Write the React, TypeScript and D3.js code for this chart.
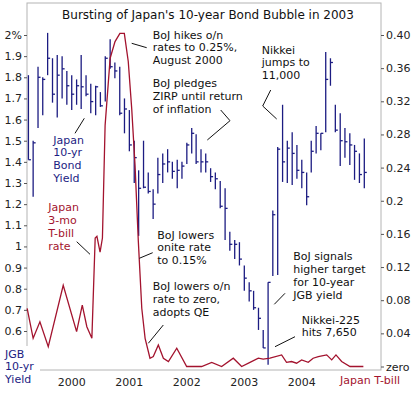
import React, { useRef, useEffect } from 'react';
import * as d3 from 'd3';

// Japan 10-yr JGB yield, monthly bars Apr 1999 .. Feb 2005 (high / low / close, %)
const yieldHigh = [
  1.81, 1.5, 1.85, 1.8, 2.01, 1.89, 1.905, 1.9, 1.83, 1.81, 1.79, 1.905,
  1.81, 1.77, 1.76, 1.73, 1.9, 1.98, 1.87, 1.85, 1.7, 1.645, 1.5, 1.36,
  1.5, 1.35, 1.27, 1.42, 1.44, 1.46, 1.4, 1.41, 1.4, 1.49, 1.56, 1.53,
  1.46, 1.44, 1.37, 1.35, 1.31, 1.275, 1.07, 1.03, 1.02, 0.91, 0.83, 0.79,
  0.71, 0.605, 0.83, 1.17, 1.47, 1.67, 1.5, 1.54, 1.48, 1.41, 1.35, 1.5,
  1.57, 1.535, 1.92, 1.89, 1.67, 1.63, 1.56, 1.535, 1.48, 1.44, 1.51,
];
const yieldLow = [
  1.41, 1.235, 1.56, 1.62, 1.81, 1.68, 1.61, 1.7, 1.67, 1.645, 1.67, 1.65,
  1.71, 1.63, 1.62, 1.66, 1.685, 1.84, 1.795, 1.62, 1.535, 1.45, 1.3, 1.05,
  1.275, 1.25, 1.13, 1.25, 1.3, 1.35, 1.32, 1.275, 1.32, 1.39, 1.44, 1.39,
  1.35, 1.35, 1.305, 1.27, 1.18, 1.03, 0.98, 0.94, 0.91, 0.79, 0.74, 0.7,
  0.605, 0.52, 0.44, 0.86, 0.865, 1.305, 1.3, 1.29, 1.32, 1.275, 1.195, 1.35,
  1.44, 1.455, 1.54, 1.76, 1.54, 1.38, 1.42, 1.385, 1.315, 1.3, 1.275,
];
const yieldClose = [
  1.41, 1.49, 1.8, 1.79, 1.89, 1.72, 1.81, 1.84, 1.76, 1.72, 1.76, 1.755,
  1.72, 1.685, 1.755, 1.665, 1.89, 1.85, 1.83, 1.63, 1.65, 1.48, 1.42, 1.275,
  1.28, 1.26, 1.2, 1.34, 1.39, 1.4, 1.355, 1.36, 1.38, 1.48, 1.535, 1.4,
  1.4, 1.4, 1.33, 1.32, 1.19, 1.18, 1.01, 1.01, 0.94, 0.85, 0.79, 0.71,
  0.66, 0.52, 0.83, 1.15, 1.46, 1.4, 1.465, 1.44, 1.36, 1.35, 1.235, 1.45,
  1.535, 1.535, 1.79, 1.87, 1.55, 1.5, 1.495, 1.48, 1.45, 1.34, 1.35,
];

// Japan 3-month T-bill rate (%)
const tbillDates = [
  '1999-03-24', '1999-05-01', '1999-06-13', '1999-08-05', '1999-11-08', '2000-02-01',
  '2000-03-08', '2000-04-06', '2000-05-08', '2000-05-29', '2000-06-09', '2000-06-29',
  '2000-07-14', '2000-07-31', '2000-09-01', '2000-10-02', '2000-11-02', '2000-11-30',
  '2000-12-25', '2001-01-16', '2001-02-06', '2001-02-27', '2001-03-21', '2001-04-11',
  '2001-05-12', '2001-06-02', '2001-07-04', '2001-08-05', '2001-09-06', '2001-10-29',
  '2001-12-31', '2002-04-05', '2002-06-08', '2002-08-10', '2002-10-23', '2002-12-15',
  '2003-02-06', '2003-03-31', '2003-05-01', '2003-06-13', '2003-08-26', '2003-09-26',
  '2003-10-28', '2003-11-29', '2003-12-31', '2004-02-11', '2004-03-13', '2004-04-15',
  '2004-06-07', '2004-07-09', '2004-08-05', '2004-09-10', '2004-11-02', '2005-01-26',
];
const tbillRates = [
  0.07, 0.034, 0.054, 0.024, 0.098, 0.042,
  0.074, 0.048, 0.034, 0.155, 0.157, 0.138,
  0.155, 0.291, 0.372, 0.392, 0.402, 0.402,
  0.368, 0.311, 0.243, 0.151, 0.07, 0.034,
  0.01, 0.012, 0.026, 0.01, 0.006, 0.022,
  0.0, 0.0, 0.005, 0.0, 0.01, 0.0,
  0.005, 0.01, 0.009, 0.01, 0.014, 0.005,
  0.006, 0.004, 0.008, 0.005, 0.01, 0.012,
  0.014, 0.008, 0.014, 0.006, 0.0, 0.0,
];

const leftTicks = [2, 1.9, 1.8, 1.7, 1.6, 1.5, 1.4, 1.3, 1.2, 1.1, 1, 0.9, 0.8, 0.7, 0.6];
const rightTicks = [0.4, 0.36, 0.32, 0.28, 0.24, 0.2, 0.16, 0.12, 0.08, 0.04, 0];
const yearTicks = [2000, 2001, 2002, 2003, 2004];

const BLUE = '#1c1c82';
const RED = '#a3132e';
const FONT = 'DejaVu Sans, Verdana, sans-serif';

const notes = [
  { lines: ['BoJ hikes o/n', 'rates to 0.25%,', 'August 2000'], x: 152.7, y: 35, color: '#111', leader: [[131.7, 43.3], [146.7, 47.7]] },
  { lines: ['BoJ pledges', 'ZIRP until return', 'of inflation'], x: 152.7, y: 83.3, color: '#111', leader: [[220.7, 110], [230, 120.7], [207.3, 140]] },
  { lines: ['Nikkei', 'jumps to', '11,000'], x: 261.7, y: 50, color: '#111', leader: [[270.7, 90], [262.7, 106], [276.7, 119]] },
  { lines: ['Japan', '10-yr', 'Bond', 'Yield'], x: 53.3, y: 140, color: BLUE, leader: [[84.3, 118.3], [75, 133.3]] },
  { lines: ['Japan', '3-mo', 'T-bill', 'rate'], x: 48.3, y: 207.7, color: RED, leader: [[76.7, 241.7], [90, 254.3]] },
  { lines: ['BoJ lowers', 'onite rate', 'to 0.15%'], x: 157.3, y: 235, color: '#111', leader: [[152.7, 252.7], [139.3, 258.3]] },
  { lines: ['BoJ lowers o/n', 'rate to zero,', 'adopts QE'], x: 152.7, y: 286.7, color: '#111', leader: [[163.3, 325], [148.3, 343.3]] },
  { lines: ['BoJ signals', 'higher target', 'for 10-year', 'JGB yield'], x: 293.3, y: 256.7, color: '#111', leader: [[285, 293.3], [274.3, 304.3]] },
  { lines: ['Nikkei-225', 'hits 7,650'], x: 301.7, y: 320, color: '#111', leader: [[295, 336.7], [275, 346.7]] },
];

const JgbChart = () => {
  const ref = useRef(null);

  useEffect(() => {
    const svg = d3.select(ref.current);
    svg.selectAll('*').remove();

    const left = 27;
    const right = 381;
    const top = 3;
    const bottom = 370;

    const x = d3
      .scaleTime()
      .domain([new Date(1999, 2, 23), new Date(2005, 4, 18)])
      .range([left, right]);
    const yL = d3.scaleLinear().domain([0.6, 2.0]).range([331, 35]);
    const yR = d3.scaleLinear().domain([0, 0.4]).range([366.5, 35]);

    const months = d3.timeMonth.range(new Date(1999, 3, 1), new Date(2005, 2, 1));
    const bars = months.map((m, i) => ({
      date: m,
      high: yieldHigh[i],
      low: yieldLow[i],
      close: yieldClose[i],
    }));
    const parse = d3.timeParse('%Y-%m-%d');
    const tbill = tbillDates.map((d, i) => ({ date: parse(d), rate: tbillRates[i] }));

    svg.append('rect').attr('width', 416).attr('height', 393).attr('fill', '#fff');

    // frame
    svg
      .append('rect')
      .attr('x', left)
      .attr('y', top)
      .attr('width', right - left)
      .attr('height', bottom - top)
      .attr('fill', 'none')
      .attr('stroke', '#b4b4b4')
      .attr('stroke-width', 1);

    svg
      .append('text')
      .attr('x', 208)
      .attr('y', 15)
      .attr('text-anchor', 'middle')
      .attr('dominant-baseline', 'central')
      .attr('font-family', FONT)
      .attr('font-size', 12)
      .attr('fill', '#111')
      .text("Bursting of Japan's 10-year Bond Bubble in 2003");

    // axes
    const leftAxis = svg
      .append('g')
      .attr('transform', `translate(${left},0)`)
      .call(
        d3
          .axisLeft(yL)
          .tickValues(leftTicks)
          .tickSize(3)
          .tickPadding(2)
          .tickFormat((d) => (d === 2 ? '2%' : d3.format('~g')(d)))
      );
    const rightAxis = svg
      .append('g')
      .attr('transform', `translate(${right},0)`)
      .call(
        d3
          .axisRight(yR)
          .tickValues(rightTicks)
          .tickSize(3)
          .tickPadding(2)
          .tickFormat((d) => (d === 0 ? 'zero' : d === 0.2 ? '0.2' : d3.format('.2f')(d)))
      );
    [leftAxis, rightAxis].forEach((g) => {
      g.select('.domain').remove();
      g.selectAll('line').attr('stroke', '#555');
      g.selectAll('text').attr('font-family', FONT).attr('font-size', 11).attr('fill', '#222');
    });

    svg
      .append('g')
      .selectAll('text')
      .data(yearTicks)
      .enter()
      .append('text')
      .attr('x', (d) => x(new Date(d, 0, 1)))
      .attr('y', 382)
      .attr('text-anchor', 'middle')
      .attr('dominant-baseline', 'central')
      .attr('font-family', FONT)
      .attr('font-size', 11)
      .attr('fill', '#222')
      .text((d) => d);

    // bond yield bars
    const barG = svg.append('g').attr('stroke', BLUE).attr('stroke-width', 1.3);
    barG
      .selectAll('line.hl')
      .data(bars)
      .enter()
      .append('line')
      .attr('class', 'hl')
      .attr('x1', (d) => x(d.date))
      .attr('x2', (d) => x(d.date))
      .attr('y1', (d) => yL(d.high))
      .attr('y2', (d) => yL(d.low));
    barG
      .selectAll('line.cl')
      .data(bars)
      .enter()
      .append('line')
      .attr('class', 'cl')
      .attr('x1', (d) => x(d.date))
      .attr('x2', (d) => x(d.date) + 2.5)
      .attr('y1', (d) => yL(d.close))
      .attr('y2', (d) => yL(d.close));

    // T-bill line
    const line = d3
      .line()
      .x((d) => x(d.date))
      .y((d) => yR(d.rate));
    svg
      .append('path')
      .datum(tbill)
      .attr('fill', 'none')
      .attr('stroke', RED)
      .attr('stroke-width', 1.3)
      .attr('d', line);

    // annotations
    const lh = 12.9;
    notes.forEach((n) => {
      const t = svg
        .append('text')
        .attr('font-family', FONT)
        .attr('font-size', 11)
        .attr('fill', n.color);
      n.lines.forEach((l, i) => {
        t.append('tspan')
          .attr('x', n.x)
          .attr('y', n.y + i * lh)
          .attr('dominant-baseline', 'central')
          .text(l);
      });
      svg
        .append('path')
        .attr('d', d3.line()(n.leader))
        .attr('fill', 'none')
        .attr('stroke', '#111')
        .attr('stroke-width', 1);
    });

    // corner labels
    svg.append('rect').attr('x', 0).attr('y', 346).attr('width', 40).attr('height', 47).attr('fill', '#fff');
    const jgb = svg
      .append('text')
      .attr('font-family', FONT)
      .attr('font-size', 11)
      .attr('fill', BLUE);
    ['JGB', '10-yr', 'Yield'].forEach((l, i) => {
      jgb
        .append('tspan')
        .attr('x', 5)
        .attr('y', 354 + i * lh)
        .attr('dominant-baseline', 'central')
        .text(l);
    });
    svg
      .append('text')
      .attr('x', 340)
      .attr('y', 380)
      .attr('dominant-baseline', 'central')
      .attr('font-family', FONT)
      .attr('font-size', 11)
      .attr('fill', RED)
      .text('Japan T-bill');
  }, []);

  return (
    <svg
      ref={ref}
      width={416}
      height={393}
      style={{ position: 'absolute', left: 0, top: 0, display: 'block' }}
    />
  );
};

export default function App() {
  return <JgbChart />;
}
